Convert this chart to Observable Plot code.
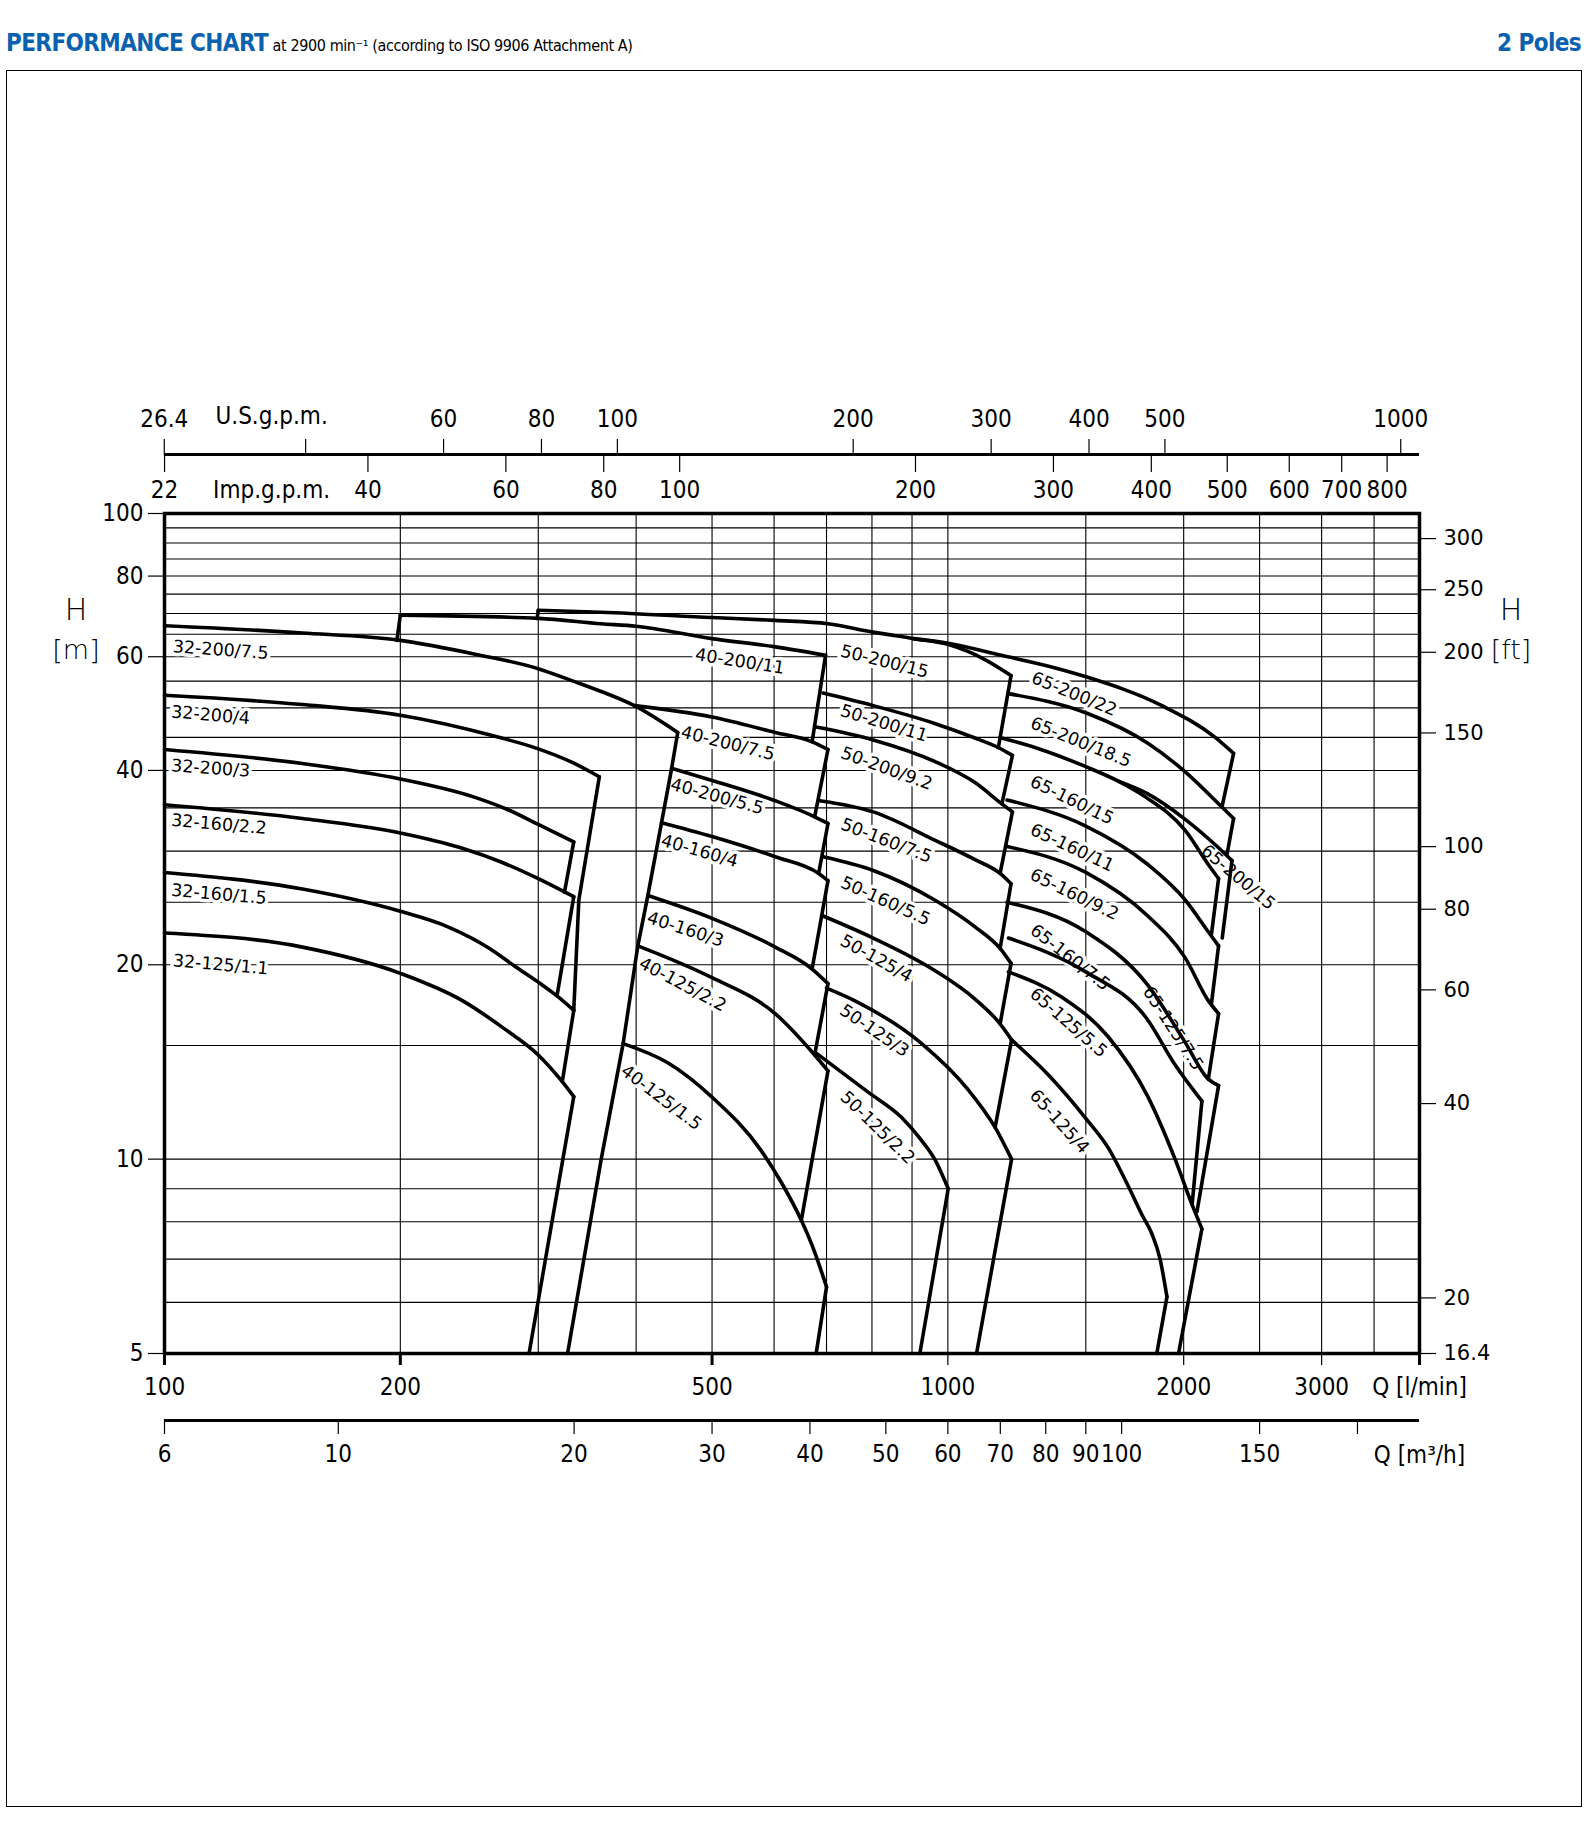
<!DOCTYPE html>
<html><head><meta charset="utf-8">
<script src="https://cdn.jsdelivr.net/npm/d3@7"></script>
<script src="https://cdn.jsdelivr.net/npm/@observablehq/plot@0.6"></script>
<style>
html,body{margin:0;padding:0;background:#fff;overflow:hidden;}
#page{position:relative;width:1588px;height:1836px;}
#frame{position:absolute;left:6px;top:70px;width:1574px;height:1735px;border:1px solid #000;}
#chart{position:absolute;left:0;top:70px;}
.hdr{position:absolute;top:29px;font-family:"Liberation Sans Narrow","DejaVu Sans Condensed","Open Sans",sans-serif;white-space:nowrap;}
.blue{color:#0a62ae;font-weight:bold;font-size:24px;letter-spacing:-0.6px;}
.sub{color:#000;font-size:16px;letter-spacing:-0.4px;}
.axt{position:absolute;font-family:"DejaVu Sans",sans-serif;font-weight:300;color:#000;text-align:center;width:60px;}
</style></head><body>
<div id="page">
  <div class="hdr" style="left:6px;"><span class="blue">PERFORMANCE CHART</span> <span class="sub">at 2900 min⁻¹ (according to ISO 9906 Attachment A)</span></div>
  <div class="hdr" style="right:7px;"><span class="blue">2 Poles</span></div>
  <div id="frame"></div>
  <div id="chart"></div>
  <div class="axt" style="left:46px;top:592px;font-size:30px;">H</div>
  <div class="axt" style="left:46px;top:634px;font-size:27px;">[m]</div>
  <div class="axt" style="left:1481px;top:592px;font-size:30px;">H</div>
  <div class="axt" style="left:1481px;top:634px;font-size:27px;">[ft]</div>
</div>
<script>
// ---------------- data (Q in l/min, H in m) ----------------
const pumpNames = [
  "32-200/7.5","32-200/4","32-200/3","32-160/2.2","32-160/1.5","32-125/1.1",
  "40-200/11","40-200/7.5","40-200/5.5","40-160/4","40-160/3","40-125/2.2","40-125/1.5",
  "50-200/15","50-200/11","50-200/9.2","50-160/7.5","50-160/5.5","50-125/4","50-125/3","50-125/2.2",
  "65-200/22","65-200/18.5","65-200/15","65-160/15","65-160/11","65-160/9.2","65-160/7.5",
  "65-125/7.5","65-125/5.5","65-125/4"
];
const pumpCurves = [
  [[100,67.0],[150,65.3],[200,63.6],[250,60.5],[300,57.5],[331,55.1],[361,53.0],[398,50.4],[452,45.8]],
  [[100,52.3],[150,50.6],[200,48.7],[262,45.3],[300,43.2],[331,41.2],[359,39.1]],
  [[100,43.1],[150,41.0],[200,38.8],[248,36.4],[274,34.8],[300,33.0],[333,31.0]],
  [[100,35.4],[150,33.7],[200,32.0],[240,30.3],[270,28.8],[300,27.2],[333,25.5]],
  [[100,27.8],[150,26.2],[200,24.2],[230,22.9],[260,21.2],[280,19.9],[300,18.8],[317,17.9],[333,17.0]],
  [[100,22.4],[150,21.3],[200,19.4],[240,17.6],[270,16.0],[300,14.5],[320,13.3],[333,12.5]],
  [[200,69.6],[300,68.8],[361,67.5],[400,66.9],[500,64.0],[600,62.2],[698,60.3]],
  [[398,50.4],[500,48.4],[602,45.8],[671,44.3],[703,43.1]],
  [[444,40.3],[500,38.6],[602,35.9],[676,33.9],[703,33.1]],
  [[431,33.2],[500,31.6],[602,29.4],[684,27.7],[703,27.0]],
  [[414,25.6],[500,23.6],[602,21.3],[671,19.7],[703,18.7]],
  [[402,21.4],[500,19.1],[602,16.8],[676,14.5],[703,13.7]],
  [[385,15.1],[439,14.1],[499,12.5],[578,10.3],[613,9.2],[650,8.04],[676,7.18],[700,6.34]],
  [[300,70.8],[361,70.3],[500,69.0],[602,68.3],[703,67.5],[803,65.5],[903,64.0],[1004,62.6],[1115,59.4],[1204,56.1]],
  [[693,52.7],[803,50.4],[962,47.3],[1083,44.9],[1160,43.4],[1209,42.2]],
  [[679,46.7],[803,44.6],[962,41.3],[1083,38.3],[1172,35.5],[1209,34.5]],
  [[686,35.9],[803,34.5],[962,31.2],[1083,29.1],[1166,27.7],[1204,26.7]],
  [[693,29.4],[803,28.0],[962,25.2],[1083,22.9],[1166,21.2],[1204,20.1]],
  [[693,23.8],[803,22.0],[962,19.6],[1083,17.7],[1166,16.2],[1206,15.3]],
  [[700,18.4],[760,17.6],[926,15.1],[1062,12.8],[1149,11.2],[1206,10.0]],
  [[679,14.6],[791,12.7],[873,11.6],[925,10.7],[962,10.0],[1001,9.0]],
  [[903,64.0],[1004,62.9],[1171,60.3],[1360,57.8],[1505,55.8],[1876,50.4],[2194,45.0],[2316,42.5]],
  [[1195,52.6],[1508,49.0],[1804,44.0],[2009,39.8],[2238,35.1],[2316,33.7]],
  [[1650,38.5],[1800,36.8],[2009,33.6],[2200,30.6],[2305,29.0]],
  [[1165,45.0],[1300,43.3],[1503,40.5],[1650,38.5],[1787,36.4],[2009,32.3],[2150,28.6],[2216,27.2]],
  [[1190,36.0],[1500,32.8],[1800,28.6],[2009,25.2],[2150,22.5],[2216,21.4]],
  [[1190,30.5],[1500,27.8],[1800,23.8],[2009,20.5],[2150,17.6],[2216,16.8]],
  [[1190,25.0],[1500,22.5],[1800,18.6],[2000,15.3],[2150,13.3],[2216,13.0]],
  [[1195,22.0],[1500,19.5],[1795,16.5],[1950,14.0],[2110,12.3]],
  [[1195,19.5],[1400,17.8],[1600,15.5],[1800,12.5],[1950,10.0],[2050,8.5],[2110,7.8]],
  [[1206,15.3],[1344,13.5],[1497,11.6],[1603,10.4],[1701,9.06],[1769,8.2],[1821,7.67],[1866,7.0],[1904,6.12]]
];
// envelope / boundary lines between curves
const boundaryLines = [
  [[359,39.1],[338,25.2],[333,17.0]],
  [[333,31.0],[324,25.9]],
  [[333,25.5],[317,17.9]],
  [[333,17.0],[322,13.2]],
  [[333,12.5],[292,5]],
  [[198,63.6],[200,69.6]],
  [[299,68.8],[300,70.8]],
  [[452,45.8],[444,40.3],[431,33.2],[414,25.6],[402,21.4],[385,15.1],[361,10.0],[327,5]],
  [[698,60.3],[671,44.3]],
  [[703,43.1],[676,33.9]],
  [[703,33.1],[684,27.7]],
  [[703,27.0],[671,19.7]],
  [[703,18.7],[676,14.5]],
  [[703,13.7],[650,8.04]],
  [[700,6.34],[679,5]],
  [[1204,56.1],[1160,43.4]],
  [[1209,42.2],[1172,35.5]],
  [[1209,34.5],[1166,27.7]],
  [[1204,26.7],[1166,21.2]],
  [[1204,20.1],[1166,16.2]],
  [[1206,15.3],[1149,11.2]],
  [[1206,10.0],[1088,5]],
  [[1001,9.0],[921,5]],
  [[2316,42.5],[2238,35.1]],
  [[2316,33.7],[2271,29.6]],
  [[2305,29.0],[2240,22.0]],
  [[2216,27.2],[2170,22.3]],
  [[2216,21.4],[2170,17.4]],
  [[2216,16.8],[2150,13.3]],
  [[2216,13.0],[2080,8.3]],
  [[2110,12.3],[2050,8.5]],
  [[2110,7.8],[1970,5]],
  [[1904,6.12],[1848,5]]
];
const labelNames = pumpNames;
const labelQ = [102.5,102,102,102,102,102.5, 476,457,443,431,414,405,385, 730,730,732,732,732,732,732,735, 1282,1278,2121,1278,1278,1278,1282, 1795,1282,1284];
const labelH = [62.2,49.3,40.7,33.5,26.1,20.3, 60.5,45.9,38.1,31.2,23.7,20.2,13.8, 61.3,49.6,42.7,33.1,26.9,21.9,17.1,12.6, 55.8,47.5,30.3,38.6,32.5,27.7,22.8, 18.4,18.2,12.7];
const labelAngle = [4,5,4,5,5,5, 9,14,15,16,18,28,37, 14,17,20,21,24,29,34,44, 22,22,40,26,25,26,38, 57,41,48];

// axes
const qTicks = [100,200,500,1000,2000,3000];
const m3hTicks = [6,10,20,30,40,50,60,70,80,90,100,150,200];
const m3hLabeled = [6,10,20,30,40,50,60,70,80,90,100,150];
const usGpmTicks = [26.4,40,60,80,100,200,300,400,500,1000];
const usGpmLabeled = [26.4,60,80,100,200,300,400,500,1000];
const impGpmTicks = [22,40,60,80,100,200,300,400,500,600,700,800];
const impGpmLabeled = [22,40,60,80,100,200,300,400,500,600,700,800];
const hTicks = [5,10,20,40,60,80,100];
const ftTicks = [300,250,200,150,100,80,60,40,20];
const gridQ = [200,300,400,500,600,700,800,900,1000,1500,2000,2500,3000,3500];
const gridH = [6,7,8,9,10,15,20,25,30,35,40,45,50,55,60,65,70,75,80,85,90,95];
const axisTitles = [
  {t:"U.S.g.p.m.", q:137, dy:-97},
  {t:"Imp.g.p.m.", q:137, dy:-23},
  {t:"Q [l/min]", q:4000, dy:874},
  {t:"Q [m³/h]", q:4000, dy:942}
];

// ---------------- build ----------------
const US = 3.78541, IMP = 4.54609, M3H = 1000/60, FT = 0.3048;
const COND = '"Liberation Sans Narrow","DejaVu Sans Condensed",Roboto,sans-serif';
const LBL = '"DejaVu Sans",sans-serif';
const fmt1 = v => { const r = Math.round(v*10)/10; return Number.isInteger(r) ? String(r) : r.toFixed(1); };

const curveRows = pumpNames.flatMap((n,i) => pumpCurves[i].map(([Q,H]) => ({id:n, Q, H})));
const boundRows = boundaryLines.flatMap((s,i) => s.map(([Q,H]) => ({id:i, Q, H})));
const labelRows = labelNames.map((t,i) => ({t, Q:labelQ[i], H:labelH[i], a:labelAngle[i]}));

const plot = Plot.plot({
  width: 1588, height: 1766,
  marginTop: 443, marginBottom: 483, marginLeft: 164, marginRight: 169,
  x: {type:"log", domain:[100,4000]},
  y: {type:"log", domain:[5,100]},
  style: {fontFamily: COND, fontSize:"24px", background:"transparent", color:"#000", overflow:"visible"},
  marks: [
    Plot.ruleX(gridQ, {stroke:"#000", strokeWidth:1.1}),
    Plot.ruleY(gridH, {stroke:"#000", strokeWidth:1.1}),
    Plot.text(labelRows, {x:"Q", y:"H", text:"t", rotate:"a", textAnchor:"start", lineAnchor:"middle",
      fontSize:17.5, fontFamily:LBL, fontWeight:400, fill:"#000", stroke:"#fff", strokeWidth:7}),
    Plot.line(boundRows, {x:"Q", y:"H", z:"id", stroke:"#000", strokeWidth:3.6, strokeLinejoin:"round"}),
    Plot.line(curveRows, {x:"Q", y:"H", z:"id", stroke:"#000", strokeWidth:3.6, curve:"monotone-x", strokeLinejoin:"round"}),
    Plot.frame({stroke:"#000", strokeWidth:3.5}),
    // left H [m]
    Plot.axisY(hTicks, {anchor:"left", label:null, tickSize:16, tickPadding:5, strokeWidth:1.2, tickFormat:d=>String(d), fontSize:24}),
    // right H [ft]
    Plot.axisY([...ftTicks.map(f=>f*FT), 5], {anchor:"right", label:null, tickSize:16, tickPadding:8, strokeWidth:1.2,
      tickFormat:d=>fmt1(d/FT), fontSize:21, fontFamily:LBL}),
    // bottom Q [l/min]
    Plot.axisX([100,200,500], {anchor:"bottom", label:null, tickSize:12, tickPadding:12, strokeWidth:3, tickFormat:d=>String(d)}),
    Plot.axisX([1000,2000,3000], {anchor:"bottom", label:null, tickSize:12, tickPadding:12, strokeWidth:1.2, tickFormat:d=>String(d)}),
    Plot.axisX([4000], {anchor:"bottom", label:null, tickSize:12, strokeWidth:3, tickFormat:()=>""}),
    // m3/h axis
    Plot.ruleY([5], {dy:67, stroke:"#000", strokeWidth:3}),
    Plot.axisX(m3hTicks.map(v=>v*M3H), {anchor:"bottom", label:null, dy:67, tickSize:14, tickPadding:10, strokeWidth:1.2,
      tickFormat:d=>{const v=Math.round(d/M3H); return m3hLabeled.includes(v)?String(v):"";}}),
    // U.S. g.p.m. (ticks up) and Imp. g.p.m. (ticks down) on one line
    Plot.ruleY([100], {dy:-59, stroke:"#000", strokeWidth:3}),
    Plot.axisX(usGpmTicks.map(g=>g*US), {anchor:"top", label:null, dy:-59, tickSize:16, tickPadding:12, strokeWidth:1.2,
      tickFormat:d=>{const g=Math.round(d/US*10)/10; return usGpmLabeled.includes(g)?fmt1(g):"";}}),
    Plot.axisX(impGpmTicks.map(g=>g*IMP), {anchor:"bottom", label:null, dy:-899, tickSize:18, tickPadding:8, strokeWidth:1.2,
      tickFormat:d=>{const g=Math.round(d/IMP*10)/10; return impGpmLabeled.includes(g)?fmt1(g):"";}}),
    ...axisTitles.map(a => Plot.text([a], {x:"q", y:()=>100, text:"t", dy:a.dy, fontSize:24, textAnchor:"middle"}))
  ]
});
document.getElementById("chart").appendChild(plot);
</script>
</body></html>
